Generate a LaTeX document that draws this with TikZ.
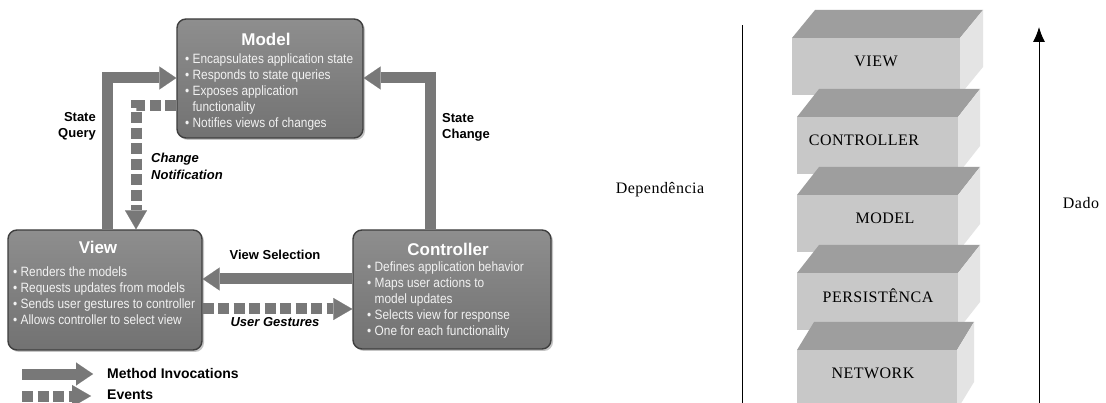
\documentclass[tikz,border=0pt]{standalone}
\usepackage{fontspec}
\setmainfont{Liberation Sans}
\newfontfamily\narrowf[FakeStretch=0.88]{Liberation Sans}
\newfontfamily\serifa[LetterSpace=3]{Liberation Serif}
\usetikzlibrary{arrows.meta,shadows}
\definecolor{boxtop}{RGB}{142,142,142}
\definecolor{boxbot}{RGB}{114,114,114}
\definecolor{boxline}{RGB}{62,62,62}
\definecolor{arrowgray}{RGB}{120,120,120}
\definecolor{bullettext}{RGB}{242,242,242}
\definecolor{topface}{RGB}{158,158,158}
\definecolor{frontface}{RGB}{200,200,200}
\definecolor{sideface}{RGB}{228,228,228}
\begin{document}
\begin{tikzpicture}[x=1pt,y=-1pt,
  mvcbox/.style={draw=boxline, line width=1.4pt, rounded corners=9pt,
    top color=boxtop, bottom color=boxbot,
    drop shadow={shadow xshift=2pt, shadow yshift=-2pt, opacity=0.45},
    inner sep=0pt, rectangle},
  boxtitle/.style={font=\bfseries\fontsize{17}{20}\selectfont, text=white, inner sep=0pt},
  bullets/.style={font=\narrowf\fontsize{13.5}{16}\selectfont, text=bullettext, align=left, anchor=north west, inner sep=0pt},
  lbl/.style={font=\bfseries\fontsize{13}{16}\selectfont, inner sep=0pt},
  ilbl/.style={font=\bfseries\itshape\fontsize{13}{17}\selectfont, inner sep=0pt},
  leg/.style={font=\bfseries\fontsize{14}{16}\selectfont, inner sep=0pt, anchor=west},
  method/.style={draw=arrowgray, line width=11pt, line join=miter,
    -{Triangle[length=17pt,width=23pt,line width=0.1pt]}},
  event/.style={draw=arrowgray, line width=11pt, line join=miter,
    dash pattern=on 11pt off 4.5pt,
    -{Triangle[length=19pt,width=22pt,line width=0.1pt]}},
  layerlbl/.style={font=\serifa\fontsize{16}{18}\selectfont, inner sep=0pt},
  sidelbl/.style={font=\serifa\fontsize{16}{18}\selectfont, inner sep=0pt}
]
\useasboundingbox (0,0) rectangle (1106,403);
\fill[white] (0,0) rectangle (1106,403);

% ---------- MVC boxes ----------
\node[mvcbox, minimum width=186pt, minimum height=119pt] (model) at (270,78.5) {};
\node[mvcbox, minimum width=194pt, minimum height=120pt] (view) at (105,290) {};
\node[mvcbox, minimum width=198pt, minimum height=119pt] (controller) at (452,289.5) {};

\node[boxtitle] (modelt) at (266,39) {Model};
\node[bullets] (modelb) at (185,54) {• Encapsulates application state\\
• Responds to state queries\\
• Exposes application\\
\phantom{• }functionality\\
• Notifies views of changes};

\node[boxtitle] (viewt) at (98,247) {View};
\node[bullets] (viewb) at (13,267) {• Renders the models\\
• Requests updates from models\\
• Sends user gestures to controller\\
• Allows controller to select view};

\node[boxtitle] (controllert) at (448,249) {Controller};
\node[bullets] (controllerb) at (367,262) {• Defines application behavior\\
• Maps user actions to\\
\phantom{• }model updates\\
• Selects view for response\\
• One for each functionality};

% ---------- connectors ----------
\coordinate (sq) at (107,78);
\coordinate (sc) at (430,78);
\coordinate (cn) at (136,106);
\coordinate (vs) at (0,279);
\coordinate (ug) at (0,309);

\draw[method] (view.north -| sq) |- (model.west |- sq);
\draw[method] (controller.north -| sc) |- (model.east |- sc);
\draw[method] (controller.west |- vs) -- (view.east |- vs);
\draw[event] (model.west |- cn) -| (view.north -| cn);
\draw[event] (view.east |- ug) -- (controller.west |- ug);

\node[lbl, align=right, anchor=east] (sqlbl) at (96,126) {State\\Query};
\node[lbl, align=left, anchor=west] (sclbl) at (442,127) {State\\Change};
\node[ilbl, align=left, anchor=west] (cnlbl) at (151,166) {Change\\Notification};
\node[lbl] (vslbl) at (275,255) {View Selection};
\node[ilbl] (uglbl) at (275,322) {User Gestures};

% ---------- legend ----------
\coordinate (lm1) at (22,374);
\coordinate (lm2) at (93,374);
\coordinate (le1) at (22,396);
\coordinate (le2) at (91,396);
\draw[method] (lm1) -- (lm2);
\draw[event] (le1) -- (le2);
\node[leg] (legm) at (107,373) {Method Invocations};
\node[leg] (lege) at (107,395) {Events};

% ---------- layered stack ----------
\coordinate (deptop) at (742,25);
\coordinate (depbot) at (742,403);
\draw[line width=1pt] (depbot) -- (deptop);
\coordinate (dadotop) at (1039,27);
\coordinate (dadobot) at (1039,403);
\draw[line width=1pt, -{Latex[length=15pt,width=12pt]}] (dadobot) -- (dadotop);

\node[sidelbl] (dep) at (660,190) {Dependência};
\node[sidelbl] (dado) at (1081,203) {Dado};

\foreach \yt/\xl/\xr/\d/\h/\lab/\lx/\nm in {
  38/792/960/23/57/VIEW/876/lview,
  117/797/958/22/57/CONTROLLER/864/lctrl,
  195/797/958/22/57/MODEL/885/lmodel,
  273/797/958/22/57/PERSISTÊNCA/878/lpers,
  350/797/957/17/60/NETWORK/873/lnet}{
  \fill[topface] (\xl,\yt) -- (\xl+\d,\yt-28) -- (\xr+\d,\yt-28) -- (\xr,\yt) -- cycle;
  \fill[sideface] (\xr,\yt) -- (\xr+\d,\yt-28) -- (\xr+\d,\yt+\h-28) -- (\xr,\yt+\h) -- cycle;
  \fill[frontface] (\xl,\yt) rectangle (\xr,\yt+\h);
  \node[layerlbl] (\nm) at (\lx,\yt+23) {\lab};
}
\end{tikzpicture}
\end{document}
